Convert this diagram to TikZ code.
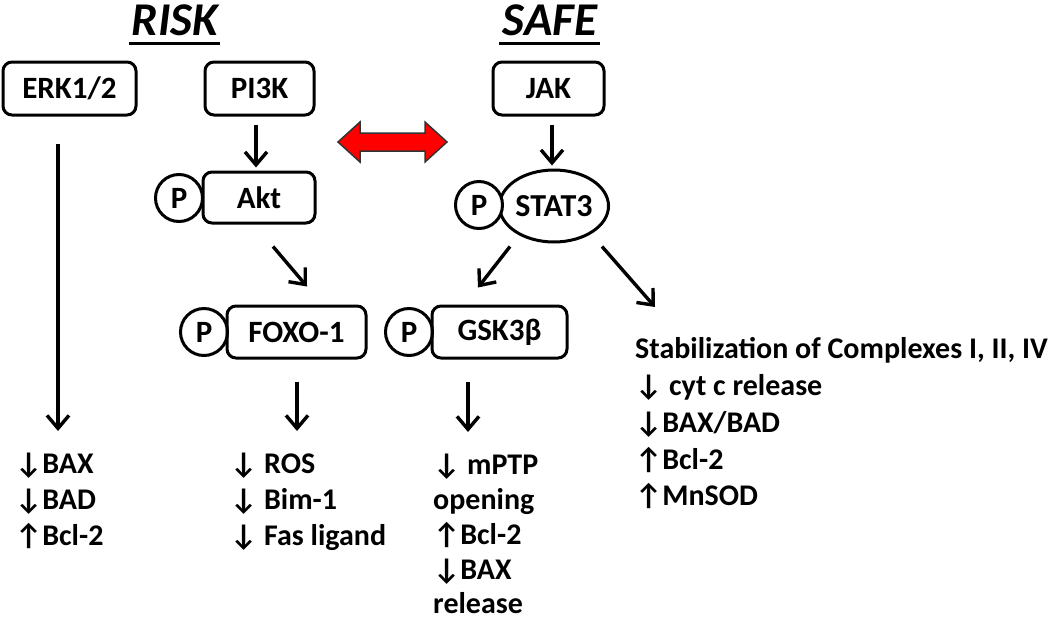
\documentclass[tikz,border=0pt]{standalone}
\usepackage{fontspec}
\setmainfont{Carlito}
\usetikzlibrary{arrows.meta,shapes.geometric,calc}
\newcommand{\dn}{↓}
\newcommand{\up}{↑}
\tikzset{
  box/.style={draw, line width=3pt, rounded corners=9pt, minimum width=#1, minimum height=53pt, inner sep=0pt, font=\fontsize{31}{30}\selectfont\bfseries},
  pc/.style={draw, circle, line width=3pt, minimum size=47pt, inner sep=0pt, font=\fontsize{31}{30}\selectfont\bfseries},
  arr/.style={line width=3.4pt, -{Straight Barb[length=13pt,width=22pt,line width=3.4pt]}},
  txt/.style={anchor=base west, inner sep=0pt, font=\fontsize{30}{30}\selectfont\bfseries},
  ttl/.style={anchor=base, inner sep=0pt, font=\fontsize{47}{50}\selectfont\bfseries\itshape},
  ul/.style={line width=3pt},
  dbl/.style={fill=red, draw=black!80, line width=1.5pt, line join=miter},
}
\begin{document}
\begin{tikzpicture}[x=1pt,y=-1pt]
\useasboundingbox (0,0) rectangle (1050,619);
% titles
\node[ttl] (risk) at (175,35) {RISK};
\node[ttl] (safe) at (550,35) {SAFE};
\draw[ul] ([shift={(-3,8)}]risk.base west) -- ([shift={(2,8)}]risk.base east);
\draw[ul] ([shift={(-3,8)}]safe.base west) -- ([shift={(2,8)}]safe.base east);
% boxes
\node[box=133pt] (erk) at (69.5,88.5) {ERK1/2};
\node[box=109pt] (pi3k) at (259.5,88.5) {PI3K};
\node[box=111pt] (jak) at (548.5,88.5) {JAK};
\node[box=112pt, minimum height=51pt] (akt) at (259,197.5) {Akt};
\node[pc] (pakt) at (179,198) {P};
\node[draw, ellipse, line width=3pt, minimum width=107pt, minimum height=72pt, inner sep=0pt, font=\fontsize{32}{30}\selectfont\bfseries] (stat) at (554,206) {STAT3};
\node[pc, fill=white] (pstat) at (479,205) {P};
\node[box=139pt, minimum height=52pt] (foxo) at (296.5,332) {FOXO-1};
\node[pc] (pfoxo) at (204,332) {P};
\node[box=135pt, minimum height=52pt] (gsk) at (499.5,332) {GSK3β};
\node[pc] (pgsk) at (409,332) {P};
% red double arrow
\draw[dbl] (338,142) -- (360,122) -- (360,133) -- (425,133) -- (425,122) -- (447,142) -- (425,162) -- (425,151) -- (360,151) -- (360,162) -- cycle;
% text blocks
\node[txt] (e1) at (15,473) {\dn BAX};
\node[txt] (e2) at (15,509) {\dn BAD};
\node[txt] (e3) at (15,545) {\up Bcl-2};
\node[txt] (f1) at (230,473) {\dn\ ROS};
\node[txt] (f2) at (230,509) {\dn\ Bim-1};
\node[txt] (f3) at (230,545) {\dn\ Fas ligand};
\node[txt] (g1) at (433,474) {\dn\ mPTP};
\node[txt] (g2) at (433,509) {opening};
\node[txt] (g3) at (433,544) {\up Bcl-2};
\node[txt] (g4) at (433,579) {\dn BAX};
\node[txt] (g5) at (433,613) {release};
\node[txt] (s1) at (635,358) {Stabilization of Complexes I, II, IV};
\node[txt] (s2) at (635,395) {\dn\ cyt c release};
\node[txt] (s3) at (635,432) {\dn BAX/BAD};
\node[txt] (s4) at (635,469) {\up Bcl-2};
\node[txt] (s5) at (635,505) {\up MnSOD};
% connectors
\draw[arr] ([shift={(-3.5,8)}]pi3k.south) -- ([shift={(-3,-3)}]akt.north);
\draw[arr] ([shift={(3.5,8)}]jak.south) -- ([shift={(-2,-3)}]stat.north);
\draw[arr] ([shift={(-11.5,27)}]erk.south) -- ([shift={(43,-42)}]e1.base west);
\draw[arr] ([shift={(14,22)}]akt.south) -- ([shift={(10.5,-18)}]foxo.north);
\draw[arr] ([shift={(-44,3)}]stat.south) -- ([shift={(-21.5,-17)}]gsk.north);
\draw[arr] ([shift={(48,3)}]stat.south) -- ([shift={(20,-51)}]s1.base west);
\draw[arr] ([shift={(0.5,22)}]foxo.south) -- ([shift={(67,-42)}]f1.base west);
\draw[arr] ([shift={(-31.5,22)}]gsk.south) -- ([shift={(35,-42)}]g1.base west);
\end{tikzpicture}
\end{document}
